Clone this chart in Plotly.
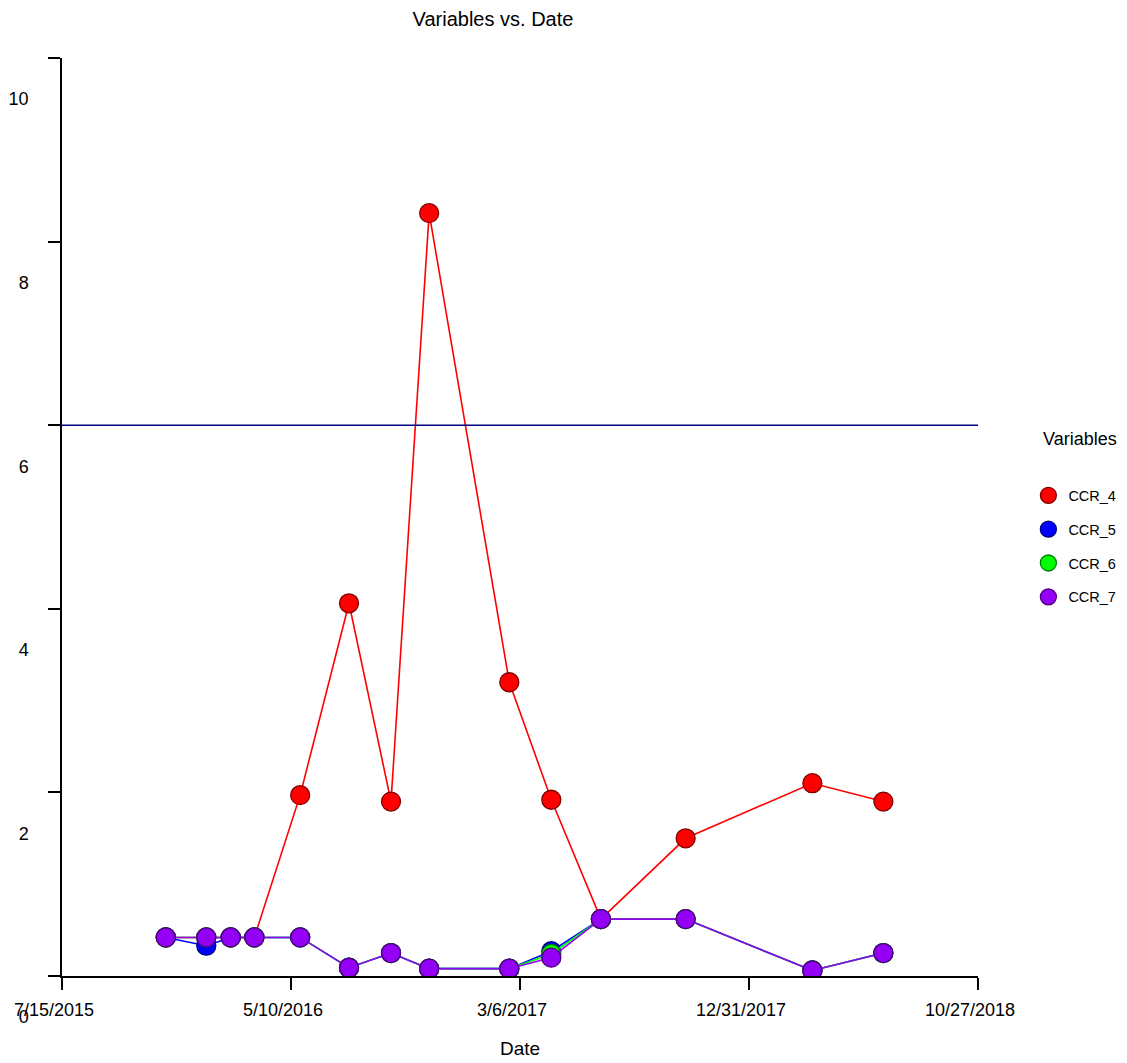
import plotly.graph_objects as go

dates = ["2015-11-28", "2016-01-20", "2016-02-21", "2016-03-23", "2016-05-22",
         "2016-07-25", "2016-09-18", "2016-11-07", "2017-02-20", "2017-04-16",
         "2017-06-20", "2017-10-09", "2018-03-24", "2018-06-25"]
ccr_4 = [0.42, 0.42, 0.42, 0.42, 1.97, 4.06, 1.90, 8.31, 3.20, 1.92, 0.62, 1.50, 2.10, 1.90]
ccr_5 = [0.42, 0.33, 0.42, 0.42, 0.42, 0.09, 0.25, 0.08, 0.08, 0.27, 0.62, 0.62, 0.06, 0.25]
ccr_6 = [0.42, 0.42, 0.42, 0.42, 0.42, 0.09, 0.25, 0.08, 0.08, 0.24, 0.62, 0.62, 0.06, 0.25]
ccr_7 = [0.42, 0.42, 0.42, 0.42, 0.42, 0.09, 0.25, 0.08, 0.08, 0.20, 0.62, 0.62, 0.06, 0.25]
ref_value = 6.0

x_tickvals = ["2015-07-15", "2016-05-10", "2017-03-06", "2017-12-31", "2018-10-27"]
x_ticktext = ["7/15/2015", "5/10/2016", "3/6/2017", "12/31/2017", "10/27/2018"]
y_tickvals = [0, 2, 4, 6, 8, 10]

series = [
    ("CCR_4", ccr_4, "#ff0000", "#800000"),
    ("CCR_5", ccr_5, "#0000ff", "#000080"),
    ("CCR_6", ccr_6, "#00ff00", "#008000"),
    ("CCR_7", ccr_7, "#9400f5", "#4a0080"),
]

FONT = "Liberation Sans, Arial, sans-serif"
fig = go.Figure()
for name, vals, col, edge in series:
    fig.add_trace(go.Scatter(
        x=dates, y=vals, name=name, mode="lines+markers",
        legendgroup=name, showlegend=False,
        line=dict(color=col, width=1.6),
        marker=dict(size=19, color=col, line=dict(color=edge, width=1.3)),
    ))
for name, vals, col, edge in series:
    fig.add_trace(go.Scatter(
        x=[None], y=[None], name=name, mode="markers",
        legendgroup=name, showlegend=True,
        marker=dict(size=16, color=col, line=dict(color=edge, width=1.3)),
    ))

fig.add_shape(type="line", xref="paper", yref="y", x0=0, x1=1,
              y0=ref_value, y1=ref_value, line=dict(color="#000080", width=1.5))

fig.add_annotation(text="Variables", xref="paper", yref="paper",
                   x=(1080 - 62) / 916, y=(976 - 439) / 918,
                   xanchor="center", yanchor="middle", showarrow=False,
                   font=dict(size=18))

# page body has an 8px margin; the figure is sized and offset to compensate
fig.update_layout(
    width=1119, height=1055,
    margin=dict(l=54, r=149, t=50, b=87, autoexpand=False),
    paper_bgcolor="white", plot_bgcolor="white",
    font=dict(family=FONT, color="black", size=18),
    title=dict(text="Variables vs. Date", x=485/1119, xanchor="center",
               y=1 - 11/1055, yanchor="middle", font=dict(size=20)),
    legend=dict(x=1.055, y=0.541, xanchor="left", yanchor="top",
                font=dict(size=14.5), tracegroupgap=12, traceorder="grouped"),
    xaxis=dict(range=["2015-07-15", "2018-10-27"], tickvals=x_tickvals,
               ticktext=x_ticktext, showgrid=False, zeroline=False,
               showline=True, linecolor="black", linewidth=1.5,
               ticks="outside", ticklen=12, tickwidth=1.5, tickcolor="black",
               tickfont=dict(size=18), automargin=False, ticklabelstandoff=5,
               ticklabelshift=-8,
               title=dict(text="Date", font=dict(size=19), standoff=22)),
    yaxis=dict(range=[0, 10], tickvals=y_tickvals, showgrid=False,
               zeroline=False, showline=True, linecolor="black", linewidth=1.5,
               ticks="outside", ticklen=12, tickwidth=1.5, tickcolor="black",
               tickfont=dict(size=18), ticklabelshift=41, automargin=False,
               ticklabelstandoff=16),
)

fig.write_html("out.html")
